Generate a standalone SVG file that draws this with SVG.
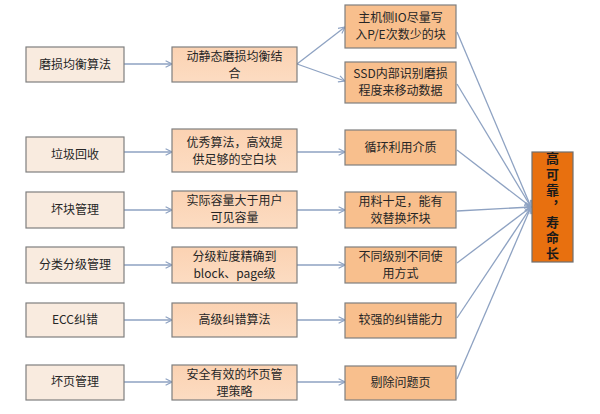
<svg xmlns="http://www.w3.org/2000/svg" width="600" height="414" viewBox="0 0 600 414">
<defs>
<marker id="ah" viewBox="0 0 10 10" refX="9" refY="5" markerWidth="8" markerHeight="8" markerUnits="userSpaceOnUse" orient="auto">
<path d="M1,1 L9,5 L1,9" fill="none" stroke="#8ea2c2" stroke-width="1.4"/>
</marker>
<linearGradient id="gm" x1="0" y1="0" x2="0" y2="1">
<stop offset="0" stop-color="#fbd2b2"/>
<stop offset="1" stop-color="#fcdcc2"/>
</linearGradient>
</defs>
<style>
.l{fill:#f9ebdf;stroke:#7f7f7f;stroke-width:1.2}
.m{fill:url(#gm);stroke:#7f7f7f;stroke-width:1.2}
.r{fill:#f8bf8d;stroke:#7f7f7f;stroke-width:1.2}
.t{fill:#e8700f;stroke:#6f6f6f;stroke-width:1.2}
text{font-family:"Noto Sans CJK SC","Liberation Sans",sans-serif;font-size:12px;fill:#262626;text-anchor:middle}
.big{font-size:13px;font-weight:bold;fill:#1a1a1a;text-anchor:start;writing-mode:vertical-rl;letter-spacing:2.8px}
.c line{stroke:#8ea2c2;stroke-width:1.3;marker-end:url(#ah)}
</style>
<rect width="600" height="414" fill="#ffffff"/>
<g class="c" id="connectors">
<line x1="124" y1="64" x2="172" y2="64"/>
<line x1="297" y1="64" x2="345" y2="27"/>
<line x1="297" y1="64" x2="345" y2="81"/>
<line x1="124" y1="152" x2="172" y2="152"/>
<line x1="297" y1="152" x2="345" y2="152"/>
<line x1="124" y1="210" x2="172" y2="210"/>
<line x1="297" y1="210" x2="345" y2="210"/>
<line x1="124" y1="265" x2="172" y2="265"/>
<line x1="297" y1="265" x2="345" y2="265"/>
<line x1="124" y1="320" x2="172" y2="320"/>
<line x1="297" y1="320" x2="345" y2="320"/>
<line x1="124" y1="382" x2="172" y2="382"/>
<line x1="297" y1="382" x2="345" y2="382"/>
<line x1="457" y1="32" x2="531" y2="207"/>
<line x1="457" y1="84" x2="531" y2="207"/>
<line x1="457" y1="150" x2="531" y2="207"/>
<line x1="457" y1="211" x2="531" y2="207"/>
<line x1="457" y1="263" x2="531" y2="207"/>
<line x1="457" y1="318" x2="531" y2="207"/>
<line x1="457" y1="379" x2="531" y2="207"/>
</g>
<g id="n-l1"><rect class="l" x="26" y="47" width="98" height="35"/><text x="75" y="69">磨损均衡算法</text></g>
<g id="n-m1"><rect class="m" x="172" y="47" width="125" height="35"/><text x="234.5" y="61">动静态磨损均衡结</text><text x="234.5" y="78">合</text></g>
<g id="n-r1"><rect class="r" x="345" y="5" width="111" height="43"/><text x="400.5" y="22">主机侧IO尽量写</text><text x="400.5" y="39">入P/E次数少的块</text></g>
<g id="n-r2"><rect class="r" x="345" y="62" width="111" height="41"/><text x="400.5" y="78">SSD内部识别磨损</text><text x="400.5" y="95">程度来移动数据</text></g>
<g id="n-l2"><rect class="l" x="26" y="137" width="98" height="35"/><text x="75" y="159">垃圾回收</text></g>
<g id="n-m2"><rect class="m" x="172" y="129" width="125" height="43"/><text x="234.5" y="147">优秀算法，高效提</text><text x="234.5" y="164">供足够的空白块</text></g>
<g id="n-r3"><rect class="r" x="345" y="130" width="111" height="35"/><text x="400.5" y="152">循环利用介质</text></g>
<g id="n-l3"><rect class="l" x="26" y="192" width="98" height="36"/><text x="75" y="214">坏块管理</text></g>
<g id="n-m3"><rect class="m" x="172" y="191" width="125" height="37"/><text x="234.5" y="205">实际容量大于用户</text><text x="234.5" y="222">可见容量</text></g>
<g id="n-r4"><rect class="r" x="345" y="192" width="111" height="36"/><text x="400.5" y="206">用料十足，能有</text><text x="400.5" y="223">效替换坏块</text></g>
<g id="n-l4"><rect class="l" x="26" y="247" width="98" height="36"/><text x="75" y="269">分类分级管理</text></g>
<g id="n-m4"><rect class="m" x="172" y="247" width="125" height="36"/><text x="234.5" y="261">分级粒度精确到</text><text x="234.5" y="278">block、page级</text></g>
<g id="n-r5"><rect class="r" x="345" y="247" width="111" height="36"/><text x="400.5" y="261">不同级别不同使</text><text x="400.5" y="278">用方式</text></g>
<g id="n-l5"><rect class="l" x="26" y="303" width="98" height="34"/><text x="75" y="324">ECC纠错</text></g>
<g id="n-m5"><rect class="m" x="172" y="303" width="125" height="34"/><text x="234.5" y="324">高级纠错算法</text></g>
<g id="n-r6"><rect class="r" x="345" y="303" width="111" height="35"/><text x="400.5" y="324">较强的纠错能力</text></g>
<g id="n-l6"><rect class="l" x="26" y="365" width="98" height="35"/><text x="75" y="386">坏页管理</text></g>
<g id="n-m6"><rect class="m" x="172" y="365" width="125" height="35"/><text x="234.5" y="379">安全有效的坏页管</text><text x="234.5" y="396">理策略</text></g>
<g id="n-r7"><rect class="r" x="345" y="366" width="111" height="34"/><text x="400.5" y="387">剔除问题页</text></g>
<g id="n-target"><rect class="t" x="532" y="152" width="41" height="110"/>
<text class="big" x="552.5" y="152">高可靠，寿命长</text></g>
</svg>
